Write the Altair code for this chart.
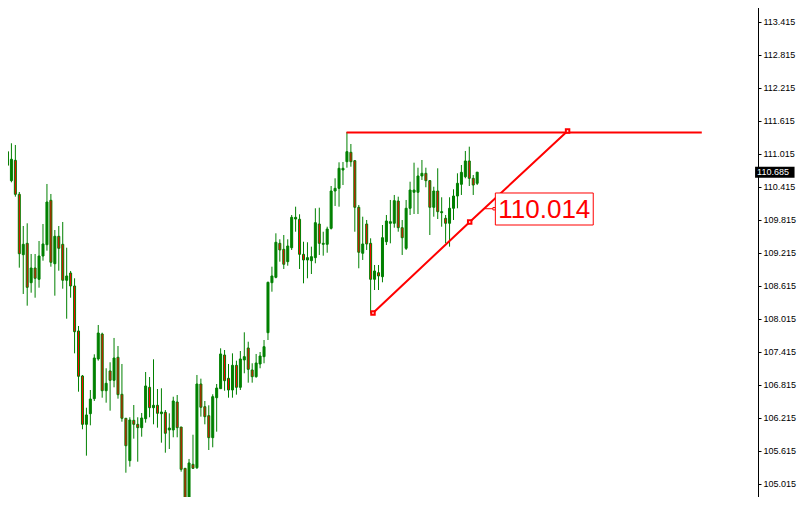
import altair as alt
import pandas as pd

# ---------------- candle data ----------------
opens = [111.057,110.530,110.900,110.282,109.184,109.391,108.675,108.942,108.737,109.160,
         109.366,110.173,109.020,109.519,109.373,108.719,108.851,108.615,107.797,106.979,
         106.100,106.293,106.566,107.288,107.742,106.711,107.070,106.900,107.319,106.646,
         106.210,105.439,106.173,106.100,106.039,106.202,106.773,106.402,106.446,106.293,
         106.319,105.997,105.997,106.506,106.051,105.300,104.620,105.373,105.311,106.833,
         106.420,106.257,105.857,106.584,106.748,107.360,106.937,106.724,107.173,106.773,
         107.270,107.488,107.088,106.966,107.197,107.330,107.766,108.675,108.773,109.391,
         109.282,109.057,109.311,109.833,109.828,109.191,109.088,109.075,109.130,109.742,
         109.373,109.373,109.664,110.342,110.391,110.724,110.875,111.046,110.893,110.046,
         109.210,109.742,109.391,108.737,108.857,108.784,109.420,109.755,109.755,110.160,
         109.675,109.300,110.028,110.319,110.319,110.615,110.664,110.530,110.046,110.342,
         109.948,109.846,109.755,110.028,110.251,110.464,110.602,110.888,110.573,110.482]
highs = [111.119,111.210,111.179,110.324,109.706,109.755,109.197,109.197,109.433,109.742,
         110.470,110.288,109.633,109.706,109.779,109.311,108.888,108.755,107.888,106.997,
         106.402,106.724,107.373,107.906,107.766,107.119,107.228,107.670,107.524,107.197,
         106.215,106.228,106.451,106.228,106.306,107.051,106.960,107.282,106.742,106.755,
         106.360,106.300,106.602,106.633,106.051,105.300,105.470,105.911,106.997,106.930,
         106.524,106.446,106.646,106.833,107.482,107.451,107.197,107.391,107.257,107.433,
         107.773,107.602,107.210,107.379,107.415,107.633,108.693,108.966,109.573,109.464,
         109.542,109.464,109.906,110.057,109.919,109.420,109.410,109.330,110.028,110.039,
         109.602,109.693,110.433,110.573,110.864,110.870,111.415,111.197,110.906,110.088,
         109.875,109.815,109.482,108.997,108.997,109.724,109.906,110.179,110.270,110.239,
         109.815,110.179,110.511,110.857,110.766,110.906,110.766,110.542,110.420,110.755,
         110.228,109.906,110.228,110.373,110.664,110.815,111.070,111.148,110.633,110.682]
lows = [110.482,110.500,110.239,108.948,108.470,108.257,108.493,108.402,108.584,109.075,
        109.257,108.966,108.439,108.893,108.566,108.020,108.402,107.391,106.693,106.010,
        105.530,106.082,106.524,107.257,106.584,106.493,106.348,106.773,106.566,106.148,
        105.220,105.330,105.839,105.420,105.875,106.130,106.228,106.100,106.039,105.766,
        105.584,105.651,105.864,105.864,105.239,104.646,104.580,105.288,105.288,106.239,
        106.100,105.633,105.682,105.966,106.748,106.711,106.584,106.584,106.639,106.724,
        107.028,106.857,106.857,106.948,107.119,107.210,107.633,108.511,108.755,109.057,
        108.924,108.984,109.270,109.602,108.924,108.664,108.755,108.833,109.028,109.179,
        109.166,109.220,109.642,110.070,110.057,110.451,110.766,110.784,109.602,108.937,
        109.088,109.270,108.115,108.542,108.542,108.682,109.360,109.391,109.675,109.602,
        109.179,109.270,109.906,109.924,109.924,110.542,110.410,109.542,109.875,109.833,
        109.693,109.391,109.330,109.815,110.028,110.270,110.573,110.433,110.270,110.451]
closes = [110.810,110.919,110.282,109.202,109.373,108.591,108.942,108.755,109.160,109.379,
          110.142,109.046,109.519,109.300,108.719,108.797,108.615,107.784,106.973,106.100,
          106.270,106.560,107.306,107.760,106.711,106.846,106.900,107.306,106.639,106.210,
          105.711,106.179,106.100,106.039,106.215,106.797,106.402,106.446,106.300,106.324,
          105.937,106.033,106.524,106.039,105.282,104.693,105.397,105.300,106.833,106.410,
          106.239,105.857,106.602,106.760,107.379,106.893,106.724,107.173,106.773,107.288,
          107.330,107.100,106.966,107.215,107.342,107.511,108.682,108.797,109.410,109.270,
          109.010,109.342,109.864,109.864,109.191,109.088,109.130,109.148,109.766,109.391,
          109.391,109.651,110.342,110.391,110.755,110.755,111.057,110.875,110.046,109.228,
          109.379,109.379,108.737,108.888,108.797,109.493,109.797,109.784,110.166,109.675,
          109.493,110.028,110.360,110.360,110.615,110.664,110.530,110.046,110.342,109.966,
          109.966,109.755,110.028,110.251,110.482,110.682,110.888,110.573,110.451,110.685]

# price axis labels
tick_values = [105.015, 105.615, 106.215, 106.815, 107.415, 108.015, 108.615, 109.215,
               109.815, 110.415, 111.015, 111.615, 112.215, 112.815, 113.415]

# drawn objects (bar index / price)
level_x = [85.9, 175.9]
level_price = [111.405, 111.405]
trend_x = [92.6, 117.1, 141.9]
trend_price = [108.124, 109.779, 111.433]
label_text = "110.014"
label_x = [123.6, 148.4]
label_price = [110.306, 109.724]
label_anchor_x = [120.9, 123.3]
label_anchor_price = 110.020
last_price = 110.685
last_label = "110.685"
tag_x = [189.4, 199.4]

GREEN = "#008000"
RED = "#ff0000"

df = pd.DataFrame({"i": list(range(len(opens))), "open": opens, "high": highs,
                   "low": lows, "close": closes})
df["dir"] = ["up" if c >= o else "down" for o, c in zip(opens, closes)]

xs = alt.Scale(domain=[-0.625, 188.875], nice=False, zero=False)
ys = alt.Scale(domain=[104.633, 113.815], nice=False, zero=False)

yaxis = alt.Axis(orient="right", values=tick_values, format=".3f", title=None,
                 grid=False, domainColor="black", domainWidth=1, tickColor="black",
                 tickSize=3, labelPadding=2, labelFont="Liberation Sans",
                 labelFontSize=9, labelColor="black", labelOverlap=False,
                 labelBaseline="middle")


def Y(field):
    return alt.Y(field, scale=ys, axis=yaxis)


X = alt.X("i:Q", scale=xs, axis=None)

wicks = alt.Chart(df).mark_rule(color=GREEN, strokeWidth=1).encode(
    x=X, y=Y("low:Q"), y2="high:Q")

bodies = alt.Chart(df).mark_bar(size=2, stroke=GREEN, strokeWidth=1).encode(
    x=X, y=Y("open:Q"), y2="close:Q",
    fill=alt.Fill("dir:N", scale=alt.Scale(domain=["up", "down"], range=[GREEN, RED]),
                  legend=None))

lvl = pd.DataFrame({"i": level_x, "p": level_price})
level = alt.Chart(lvl).mark_line(color=RED, strokeWidth=2).encode(x=X, y=Y("p:Q"))

tr = pd.DataFrame({"i": trend_x, "p": trend_price})
trend = alt.Chart(tr).mark_line(color=RED, strokeWidth=2).encode(x=X, y=Y("p:Q"))
trend_pts = alt.Chart(tr).mark_square(size=12, fill="white", stroke=RED,
                                      strokeWidth=2, opacity=1).encode(x=X, y=Y("p:Q"))

anc = pd.DataFrame({"i": label_anchor_x, "p": [label_anchor_price] * 2})
anchor_line = alt.Chart(anc).mark_line(color=RED, strokeWidth=1).encode(x=X, y=Y("p:Q"))
anchor_pt = alt.Chart(anc.tail(1)).mark_square(size=6, fill="white", stroke=RED,
                                               strokeWidth=1, opacity=1).encode(
    x=X, y=Y("p:Q"))

box = pd.DataFrame({"x1": [label_x[0]], "x2": [label_x[1]],
                    "y1": [label_price[0]], "y2": [label_price[1]],
                    "xm": [(label_x[0] + label_x[1]) / 2],
                    "ym": [(label_price[0] + label_price[1]) / 2],
                    "t": [label_text]})
label_box = alt.Chart(box).mark_rect(fill="white", stroke=RED, strokeWidth=1).encode(
    x=alt.X("x1:Q", scale=xs, axis=None), x2="x2:Q", y=Y("y1:Q"), y2="y2:Q")
label_txt = alt.Chart(box).mark_text(font="Liberation Sans", fontSize=26, color=RED,
                                     align="center", baseline="middle", dy=1).encode(
    x=alt.X("xm:Q", scale=xs, axis=None), y=Y("ym:Q"), text="t:N")

tag = pd.DataFrame({"x1": [tag_x[0]], "x2": [tag_x[1]], "p": [last_price],
                    "t": [last_label]})
tag_box = alt.Chart(tag).transform_calculate(
    hi="datum.p + 0.1", lo="datum.p - 0.1").mark_rect(fill="black").encode(
    x=alt.X("x1:Q", scale=xs, axis=None), x2="x2:Q", y=Y("hi:Q"), y2="lo:Q")
tag_txt = alt.Chart(tag).mark_text(font="Liberation Sans", fontSize=9, color="white",
                                   align="left", baseline="middle", dx=2).encode(
    x=alt.X("x1:Q", scale=xs, axis=None), y=Y("p:Q"), text="t:N")

chart = alt.layer(wicks, bodies, level, trend, trend_pts, anchor_line, anchor_pt,
                  label_box, label_txt, tag_box, tag_txt).properties(
    width=758, height=505,
    padding={"left": -8, "top": -8, "right": 39, "bottom": -8},
    autosize=alt.AutoSizeParams(type="none"),
    background="white",
).configure_view(stroke=None)

chart.save("out.html", embed_options={"renderer": "svg", "actions": False})
